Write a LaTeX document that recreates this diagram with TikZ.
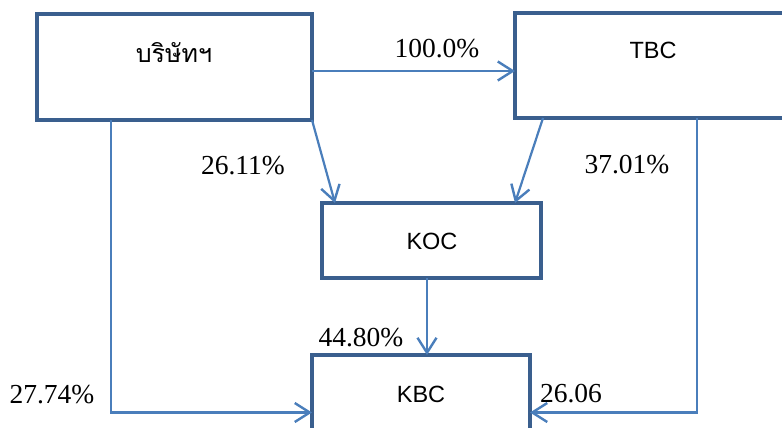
\documentclass[tikz,border=0pt]{standalone}
\usepackage{fontspec}
\setmainfont{Liberation Serif}
\newfontfamily\sansf{Liberation Sans}
\newfontfamily\thaifont[Script=Thai]{Loma}
\usetikzlibrary{arrows.meta,calc}
\definecolor{boxblue}{HTML}{3A5F8E}
\definecolor{lineblue}{HTML}{4A7EBB}
\tikzset{
  box/.style={draw=boxblue, line width=4.5pt, rectangle, inner sep=0pt, outer sep=0pt, fill=none},
  conn/.style={draw=lineblue, line width=2.2pt, -{Straight Barb[length=15pt,width=19pt,line width=2.4pt]}},
  pct/.style={anchor=base, inner sep=0pt, font=\fontsize{27.5}{30}\selectfont},
  sname/.style={anchor=base, inner sep=0pt, font=\sansf\fontsize{23.5}{26}\selectfont},
  tname/.style={anchor=base, inner sep=0pt, font=\thaifont\fontsize{25}{28}\selectfont}
}
\begin{document}
\begin{tikzpicture}[x=1pt,y=-1pt]
\useasboundingbox (0,0) rectangle (782,428);
\clip (0,0) rectangle (782,428);
% boxes
\node[box, minimum width=275pt, minimum height=106pt] (a) at (174.5,67) {};
\node[box, minimum width=275pt, minimum height=105pt] (tbc) at (652.5,65.5) {};
\node[box, minimum width=219pt, minimum height=75pt] (koc) at (431.5,240.5) {};
\node[box, minimum width=218pt, minimum height=77pt] (kbc) at (421,393.5) {};
% box texts
\node[tname] (atext) at (174,63) {บริษัทฯ};
\node[sname] (tbctext) at (653,59) {TBC};
\node[sname] (koctext) at (432,249) {KOC};
\node[sname] (kbctext) at (421,402) {KBC};
% connectors
\draw[conn] ([yshift=-4pt]a.east) -- ([yshift=-4pt]a.east -| tbc.west);
\draw[conn] (a.south east) -- ([xshift=13pt]koc.north west);
\draw[conn] ([xshift=28pt]tbc.south west) -- ([xshift=-26pt]koc.north east);
\draw[conn] ([xshift=74pt]a.south west) |- ([yshift=-19pt]kbc.west);
\draw[conn] ([xshift=182pt]tbc.south west) |- ([yshift=-19pt]kbc.east);
\draw[conn] ([xshift=-4.5pt]koc.south) -- ([xshift=-4.5pt]koc.south |- kbc.north);
% labels
\node[pct] (l1) at (437,58) {100.0\%};
\node[pct] (l2) at (243,174) {26.11\%};
\node[pct] (l3) at (627,173) {37.01\%};
\node[pct] (l4) at (361,346) {44.80\%};
\node[pct] (l5) at (52,403) {27.74\%};
\node[pct] (l6) at (571,402) {26.06};
\end{tikzpicture}
\end{document}
